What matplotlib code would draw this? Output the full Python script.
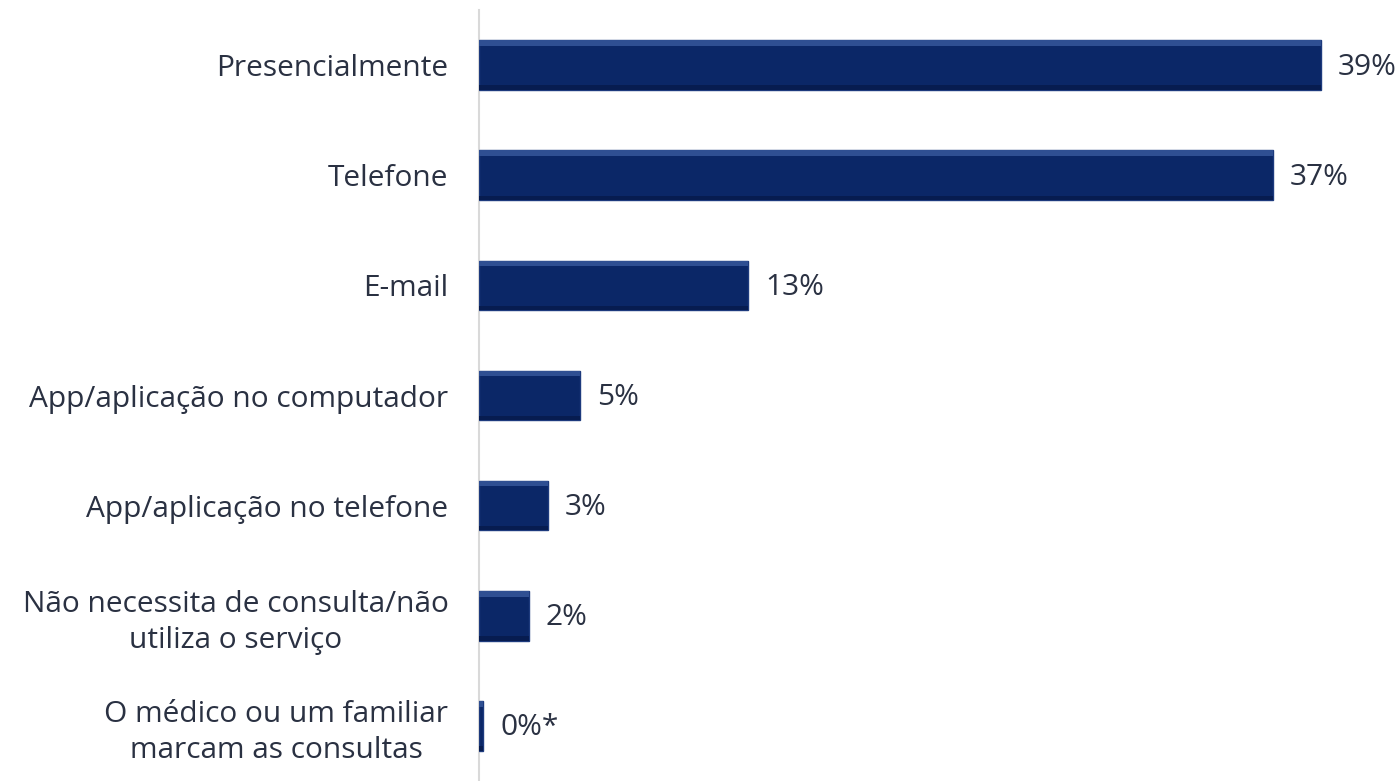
import matplotlib
matplotlib.use("Agg")
import matplotlib.pyplot as plt

categories = [
    "Presencialmente",
    "Telefone",
    "E-mail",
    "App/aplicação no computador",
    "App/aplicação no telefone",
    "Não necessita de consulta/não\nutiliza o serviço",
    "O médico ou um familiar\nmarcam as consultas",
]
values = [39.1, 36.9, 12.5, 4.7, 3.2, 2.3, 0.2]
labels = ["39%", "37%", "13%", "5%", "3%", "2%", "0%*"]

plt.rcParams['font.family'] = ['Open Sans', 'DejaVu Sans']
text_color = "#2a3142"
bar_color = "#0b2767"

fig = plt.figure(figsize=(13.98, 7.81), dpi=100)
ax = fig.add_axes([479/1398, 0.0, 1 - 479/1398, 1 - 10/781])

y = list(range(len(categories)))
h = 0.45
ax.barh(y, values, height=h, color=bar_color, edgecolor="#1d3a7d", linewidth=1.0, zorder=3)
# bevel highlight on top edge
ax.barh([v - h/2 + 0.025 for v in y], values, height=0.05, color="#2f4f92", linewidth=0, zorder=4)
# darker bottom edge
ax.barh([v + h/2 - 0.02 for v in y], values, height=0.04, color="#071c50", linewidth=0, zorder=4)

ax.set_ylim(6.5, -0.5)
ax.set_xlim(0, 42.7)
ax.set_yticks(y)
ax.set_yticklabels(categories, fontsize=21.5, color=text_color, multialignment='center',
                   linespacing=1.32)
ax.tick_params(axis='y', length=0, pad=22)
ax.set_xticks([])
for s in ["top", "right", "bottom"]:
    ax.spines[s].set_visible(False)
ax.spines["left"].set_color("#d9d9d9")
ax.spines["left"].set_linewidth(1.5)
ax.patch.set_alpha(0)

for yi, v, lab in zip(y, values, labels):
    ax.annotate(lab, (v, yi), xytext=(17, -2), textcoords="offset pixels",
                va="center", ha="left", fontsize=21.5, color=text_color)

fig.savefig("out.png", dpi=100)
